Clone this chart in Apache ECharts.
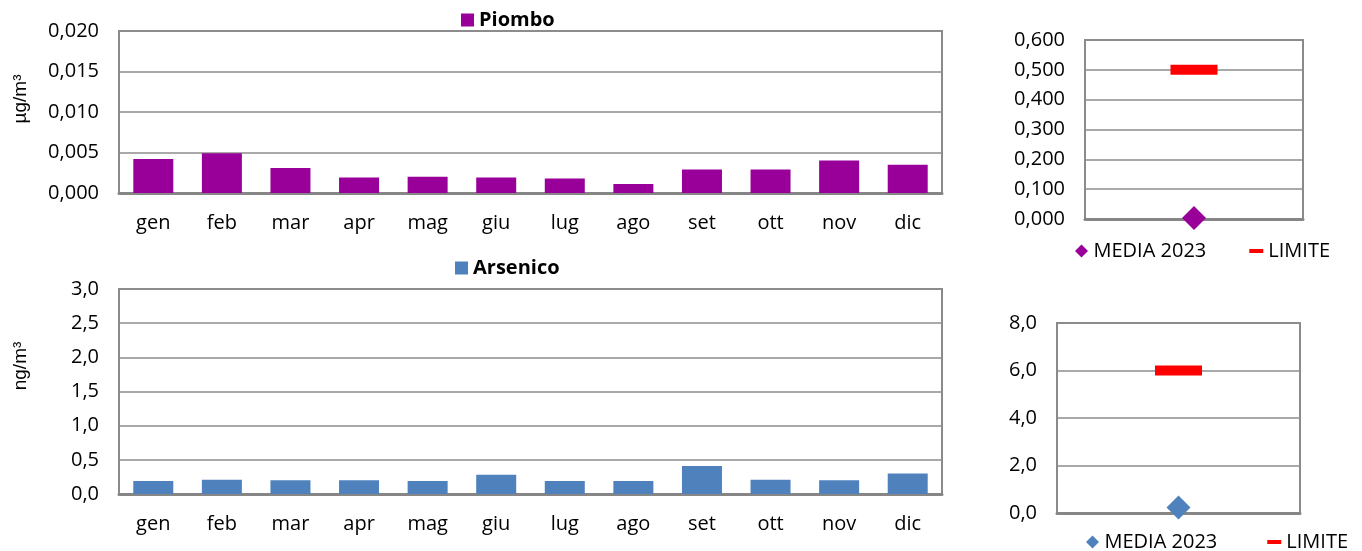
<!DOCTYPE html>
<html>
<head>
<meta charset="utf-8">
<title>Piombo e Arsenico 2023</title>
<script src="https://cdn.jsdelivr.net/npm/echarts@6/dist/echarts.min.js"></script>
<style>
  html, body { margin: 0; padding: 0; background: #fff; }
  #chart { width: 1362px; height: 551px; }
</style>
</head>
<body>
<div id="chart"></div>
<script>
// Monthly concentrations, 2023
const months = ['gen', 'feb', 'mar', 'apr', 'mag', 'giu', 'lug', 'ago', 'set', 'ott', 'nov', 'dic'];
const piombo = [0.0042, 0.0049, 0.0031, 0.0019, 0.0020, 0.0019, 0.0018, 0.0011, 0.0029, 0.0029, 0.0040, 0.0035]; // µg/m³
const arsenico = [0.19, 0.21, 0.20, 0.20, 0.19, 0.28, 0.19, 0.19, 0.41, 0.21, 0.20, 0.30];                    // ng/m³

// Annual mean vs. limit value
const yearCategory = ['2023'];
const piomboMedia = [0.003];
const piomboLimite = [0.5];
const arsenicoMedia = [0.23];
const arsenicoLimite = [6.0];

// Axis ranges
const piomboAxis = { min: 0, max: 0.020, interval: 0.005, decimals: 3 };
const arsenicoAxis = { min: 0, max: 3.0, interval: 0.5, decimals: 1 };
const piomboLimitAxis = { min: 0, max: 0.6, interval: 0.1, decimals: 3 };
const arsenicoLimitAxis = { min: 0, max: 8, interval: 2, decimals: 1 };

// Legend labels
const legendNames = {
  'Pb MEDIA 2023': 'MEDIA 2023', 'Pb LIMITE': 'LIMITE',
  'As MEDIA 2023': 'MEDIA 2023', 'As LIMITE': 'LIMITE'
};

const PURPLE = '#990099';
const BLUE = '#4f81bd';
const RED = '#ff0000';
const GRID_GREY = '#8c8c8c';
const FONT = '"Open Sans", "Noto Sans", sans-serif';
const FS = 20;

const diamondIcon = 'path://M6,0L12,6L6,12L0,6Z';
const dashIcon = 'path://M0,0H14V4H0Z';

const comma = (d) => (v) => v.toFixed(d).replace('.', ',');

function valueAxis(gridIndex, ax) {
  return {
    type: 'value', gridIndex,
    min: ax.min, max: ax.max, interval: ax.interval,
    axisLine: { show: false }, axisTick: { show: false },
    splitLine: { show: true, lineStyle: { color: GRID_GREY, width: 1.5 } },
    axisLabel: { formatter: comma(ax.decimals), color: '#000', fontFamily: FONT, fontSize: FS, margin: 20 }
  };
}

function categoryAxis(gridIndex, data, showLabels) {
  return {
    type: 'category', gridIndex, data,
    axisTick: { show: false },
    axisLine: { show: true, lineStyle: { color: '#868686', width: 3 } },
    axisLabel: { show: showLabels, color: '#000', fontFamily: FONT, fontSize: FS, margin: 20 }
  };
}

const gridBase = { show: true, borderColor: '#8a8a8a', borderWidth: 2, backgroundColor: '#fff' };

const chart = echarts.init(document.getElementById('chart'), null, { renderer: 'canvas' });

chart.setOption({
  animation: false,
  backgroundColor: '#fff',
  grid: [
    Object.assign({ left: 119, top: 31, width: 823, height: 162 }, gridBase),
    Object.assign({ left: 119, top: 289, width: 823, height: 205 }, gridBase),
    Object.assign({ left: 1085, top: 40, width: 218, height: 179 }, gridBase),
    Object.assign({ left: 1057, top: 323, width: 243, height: 190 }, gridBase)
  ],
  xAxis: [
    categoryAxis(0, months, true),
    categoryAxis(1, months, true),
    categoryAxis(2, yearCategory, false),
    categoryAxis(3, yearCategory, false)
  ],
  yAxis: [
    valueAxis(0, piomboAxis),
    valueAxis(1, arsenicoAxis),
    valueAxis(2, piomboLimitAxis),
    valueAxis(3, arsenicoLimitAxis)
  ],
  legend: [
    {
      data: ['Piombo'], left: 461, top: 10, padding: 0,
      icon: 'rect', itemWidth: 13, itemHeight: 13,
      textStyle: { fontFamily: FONT, fontSize: FS, fontWeight: 'bold', color: '#000' }
    },
    {
      data: ['Arsenico'], left: 455, top: 258, padding: 0,
      icon: 'rect', itemWidth: 13, itemHeight: 13,
      textStyle: { fontFamily: FONT, fontSize: FS, fontWeight: 'bold', color: '#000' }
    },
    {
      data: [{ name: 'Pb MEDIA 2023', icon: diamondIcon }, { name: 'Pb LIMITE', icon: dashIcon }],
      left: 1075, top: 241, padding: 0, itemWidth: 14, itemHeight: 13, itemGap: 43,
      formatter: (n) => legendNames[n],
      textStyle: { fontFamily: FONT, fontSize: FS, color: '#000' }
    },
    {
      data: [{ name: 'As MEDIA 2023', icon: diamondIcon }, { name: 'As LIMITE', icon: dashIcon }],
      left: 1086, top: 532, padding: 0, itemWidth: 14, itemHeight: 13, itemGap: 50,
      formatter: (n) => legendNames[n],
      textStyle: { fontFamily: FONT, fontSize: FS, color: '#000' }
    }
  ],
  graphic: [
    {
      type: 'text', x: 21, y: 99, rotation: Math.PI / 2,
      style: { text: 'µg/m³', fontFamily: '"Liberation Sans", Arial, sans-serif', fontSize: 19, fill: '#000', align: 'center', verticalAlign: 'middle' }
    },
    {
      type: 'text', x: 21, y: 366, rotation: Math.PI / 2,
      style: { text: 'ng/m³', fontFamily: '"Liberation Sans", Arial, sans-serif', fontSize: 19, fill: '#000', align: 'center', verticalAlign: 'middle' }
    }
  ],
  series: [
    {
      name: 'Piombo', type: 'bar', xAxisIndex: 0, yAxisIndex: 0,
      data: piombo, barWidth: 40, itemStyle: { color: PURPLE }
    },
    {
      name: 'Arsenico', type: 'bar', xAxisIndex: 1, yAxisIndex: 1,
      data: arsenico, barWidth: 40, itemStyle: { color: BLUE }
    },
    {
      name: 'Pb LIMITE', type: 'scatter', xAxisIndex: 2, yAxisIndex: 2,
      data: piomboLimite, symbol: 'rect', symbolSize: [47, 10], itemStyle: { color: RED, opacity: 1 }, z: 3
    },
    {
      name: 'Pb MEDIA 2023', type: 'scatter', xAxisIndex: 2, yAxisIndex: 2,
      data: piomboMedia, symbol: 'diamond', symbolSize: 24, itemStyle: { color: PURPLE, opacity: 1 }, z: 4
    },
    {
      name: 'As LIMITE', type: 'scatter', xAxisIndex: 3, yAxisIndex: 3,
      data: arsenicoLimite, symbol: 'rect', symbolSize: [47, 10], itemStyle: { color: RED, opacity: 1 }, z: 3
    },
    {
      name: 'As MEDIA 2023', type: 'scatter', xAxisIndex: 3, yAxisIndex: 3,
      data: arsenicoMedia, symbol: 'diamond', symbolSize: 24, itemStyle: { color: BLUE, opacity: 1 }, z: 4
    }
  ]
});
</script>
</body>
</html>
